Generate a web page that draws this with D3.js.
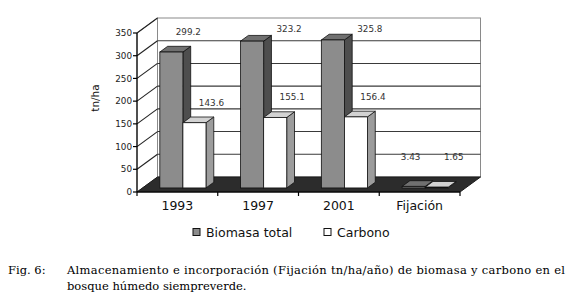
<!DOCTYPE html>
<html><head><meta charset="utf-8">
<script src="https://cdn.jsdelivr.net/npm/d3@7"></script>
<style>body{margin:0;background:#fff}svg{display:block}</style>
</head><body>
<svg id="c" width="574" height="302"></svg>
<script>
const categories = ["1993", "1997", "2001", "Fijación"];
const seriesNames = ["Biomasa total", "Carbono"];
const biomasa = [299.2, 323.2, 325.8, 3.43];
const carbono = [143.6, 155.1, 156.4, 1.65];
const yTicks = [0, 50, 100, 150, 200, 250, 300, 350];
const yTitle = "tn/ha";
const captionLabel = "Fig. 6:";
const captionLines = ["Almacenamiento e incorporación (Fijación tn/ha/año) de biomasa y carbono en el",
                      "bosque húmedo siempreverde."];

const svg = d3.select("#c");
const DX = 20.5, DY = 15;         // depth of the 3D box
const F0 = 0.27, F1 = 0.65;       // bar depth placement
const x = d3.scaleBand().domain(categories).range([137, 460]).paddingInner(0).paddingOuter(0);
const xs = d3.scaleBand().domain(seriesNames).range([0, x.bandwidth()]).paddingInner(0).paddingOuter(0.75);
const y = d3.scaleLinear().domain([0, 350]).range([192, 33]);
const x0 = x.range()[0], x1 = x.range()[1];
const yTop = y(350), yBot = y(0);

const faces = {
  "Biomasa total": {front: "#8c8c8c", side: "#4e4e4e", top: "#707070"},
  "Carbono": {front: "#ffffff", side: "#9c9c9c", top: "#d2d2d2"}
};

const poly = pts => pts.map(p => p.join(",")).join(" ");

// back wall
svg.append("rect").attr("x", x0 + DX).attr("y", yTop - DY).attr("width", x1 - x0).attr("height", yBot - yTop)
  .attr("fill", "#fff").attr("stroke", "#8a8a8a").attr("stroke-width", 1);
// left wall
svg.append("polygon").attr("points", poly([[x0, yTop], [x0 + DX, yTop - DY], [x0 + DX, yBot - DY], [x0, yBot]]))
  .attr("fill", "#fff").attr("stroke", "#8a8a8a").attr("stroke-width", 1);
// gridlines
yTicks.forEach(t => {
  if (t > 0 && t < 350) {
    svg.append("line").attr("x1", x0 + DX).attr("x2", x1 + DX).attr("y1", y(t) - DY).attr("y2", y(t) - DY)
      .attr("stroke", "#3a3a3a").attr("stroke-width", 1.1);
  }
  if (t > 0) {
    svg.append("line").attr("x1", x0).attr("x2", x0 + DX).attr("y1", y(t)).attr("y2", y(t) - DY)
      .attr("stroke", "#222").attr("stroke-width", 1.1);
  }
});
// floor
svg.append("polygon").attr("points", poly([[x0, yBot], [x1, yBot], [x1 + DX, yBot - DY], [x0 + DX, yBot - DY]]))
  .attr("fill", "#2c2c2c").attr("stroke", "#1a1a1a").attr("stroke-width", 1);

// bars
const rows = categories.map((c, i) => ({c, vals: [biomasa[i], carbono[i]]}));
const g = svg.append("g");
const labels = [];
rows.forEach(r => {
  r.vals.forEach((v, si) => {
    const s = seriesNames[si];
    const xl = x(r.c) + xs(s) + F0 * DX, xr = xl + xs.bandwidth();
    const yt = y(v) - F0 * DY, yb = y(0) - F0 * DY;
    const ddx = (F1 - F0) * DX, ddy = (F1 - F0) * DY;
    const col = faces[s];
    g.append("polygon").attr("points", poly([[xr, yt], [xr + ddx, yt - ddy], [xr + ddx, yb - ddy], [xr, yb]]))
      .attr("fill", col.side).attr("stroke", "#111").attr("stroke-width", 0.8);
    g.append("polygon").attr("points", poly([[xl, yt], [xr, yt], [xr + ddx, yt - ddy], [xl + ddx, yt - ddy]]))
      .attr("fill", col.top).attr("stroke", "#111").attr("stroke-width", 0.8);
    g.append("rect").attr("x", xl).attr("y", yt).attr("width", xr - xl).attr("height", yb - yt)
      .attr("fill", col.front).attr("stroke", "#111").attr("stroke-width", 0.8);
    // label placement
    let lx = (xl + xr) / 2 + 17, ly = yt - 20, anchor = "middle";
    if (ly < yTop - 3) { ly = yTop - 4; lx = xr + ddx + 5; anchor = "start"; }
    if (ly > y(76)) { ly = y(76); lx = (xl + xr) / 2 + (si === 0 ? -3 : 17); }
    labels.push({lx, ly, anchor, v});
  });
});
labels.forEach(l => {
  svg.append("text").attr("x", l.lx).attr("y", l.ly + 3).attr("text-anchor", l.anchor)
    .attr("font-family", "DejaVu Sans").attr("font-size", 8.8).attr("fill", "#333").text(l.v);
});

// y axis
svg.append("line").attr("x1", x0).attr("x2", x0).attr("y1", yTop).attr("y2", yBot).attr("stroke", "#000").attr("stroke-width", 1.2);
yTicks.forEach(t => {
  svg.append("line").attr("x1", x0 - 4).attr("x2", x0).attr("y1", y(t)).attr("y2", y(t)).attr("stroke", "#000").attr("stroke-width", 1.2);
  svg.append("text").attr("x", x0 - 5).attr("y", y(t) + 3.2).attr("text-anchor", "end")
    .attr("font-family", "DejaVu Sans").attr("font-size", 8.8).attr("fill", "#222").text(t);
});
// x axis
svg.append("line").attr("x1", x0).attr("x2", x1).attr("y1", yBot).attr("y2", yBot).attr("stroke", "#000").attr("stroke-width", 1.2);
[...categories.map(c => x(c)), x1].forEach(px => {
  svg.append("line").attr("x1", px).attr("x2", px).attr("y1", yBot).attr("y2", yBot + 4).attr("stroke", "#000").attr("stroke-width", 1.2);
});
categories.forEach(c => {
  svg.append("text").attr("x", x(c) + x.bandwidth() / 2).attr("y", 210).attr("text-anchor", "middle")
    .attr("font-family", "DejaVu Sans").attr("font-size", 12.5).attr("fill", "#111").text(c);
});
// y title
svg.append("text").attr("transform", "translate(99,98) rotate(-90)").attr("text-anchor", "middle")
  .attr("font-family", "DejaVu Sans").attr("font-size", 10.5).attr("fill", "#111").text(yTitle);

// legend
const legX = [193, 324];
seriesNames.forEach((s, i) => {
  svg.append("rect").attr("x", legX[i]).attr("y", 228.5).attr("width", 7).attr("height", 7)
    .attr("fill", faces[s].front).attr("stroke", "#111").attr("stroke-width", 1);
  svg.append("text").attr("x", legX[i] + 13).attr("y", 236.5).attr("font-family", "DejaVu Sans")
    .attr("font-size", 12.5).attr("fill", "#111").text(s);
});

// caption
const capFont = "DejaVu Serif";
svg.append("text").attr("x", 8).attr("y", 274).attr("font-family", capFont).attr("font-size", 11.5)
  .attr("fill", "#000").text(captionLabel);
svg.append("text").attr("x", 67).attr("y", 274).attr("font-family", capFont).attr("font-size", 11.5)
  .attr("fill", "#000").attr("textLength", 498).attr("lengthAdjust", "spacing").text(captionLines[0]);
svg.append("text").attr("x", 67).attr("y", 290).attr("font-family", capFont).attr("font-size", 11.5)
  .attr("fill", "#000").text(captionLines[1]);
</script>
</body></html>
